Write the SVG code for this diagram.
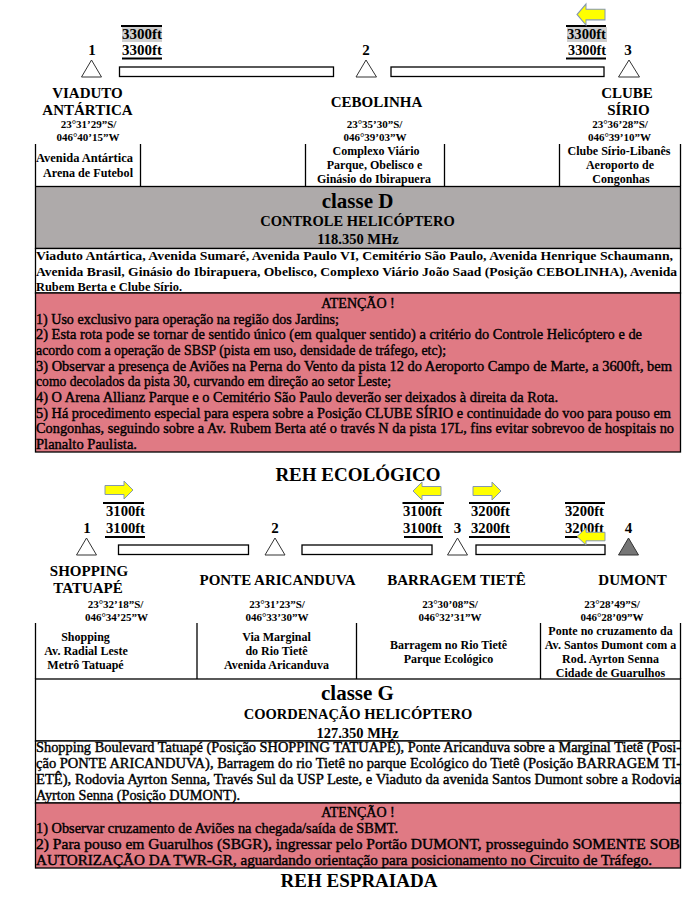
<svg xmlns="http://www.w3.org/2000/svg" width="692" height="902" viewBox="0 0 692 902">
<defs>
<style>
text{font-family:"Liberation Serif","Times New Roman",serif;font-weight:bold;fill:#000}
.m{text-anchor:middle}
.nm{font-size:15px}
.num{font-size:15px}
.co{font-size:11px}
.ce{font-size:12px}
.ft{font-size:15px}
.p{font-size:13px}
.pr{font-size:14px;font-weight:normal;stroke:#000;stroke-width:0.4}
.ttl{font-size:21px}
.sub{font-size:14.5px}
.reh{font-size:19px}
.tri{fill:#fff;stroke:#333;stroke-width:1}
.trif{fill:#767676;stroke:#333;stroke-width:1}
.seg{fill:#fff;stroke:#000;stroke-width:1.3}
.arr{fill:#ffff00;stroke:#8497b0;stroke-width:1}
.rule{stroke:#000;stroke-width:2}
.ln{stroke:#000;stroke-width:1.3;fill:none}
.grey{fill:#aeaaaa;stroke:#000;stroke-width:1.3}
.white{fill:#fff;stroke:#000;stroke-width:1.3}
.pink{fill:#e07a84;stroke:#000;stroke-width:1.3}
.hl{fill:#d0d0d0}
</style>
<path id="arR" d="M0,4.5 H19 V0 L28,9 L19,18 V13.5 H0 Z"/>
</defs>

<g id="connectors">
  <rect class="seg" x="119.5" y="67" width="214" height="9.5"/>
  <rect class="seg" x="391" y="67" width="213" height="9.5"/>
  <rect class="seg" x="118.5" y="545" width="130" height="9.5"/>
  <rect class="seg" x="302" y="545" width="130" height="9.5"/>
  <rect class="seg" x="476" y="545" width="129" height="9.5"/>
</g>

<g id="alt-top-1">
  <rect class="hl" x="122" y="27" width="40" height="15"/>
  <line class="rule" x1="121" y1="26" x2="162" y2="26"/>
  <text class="ft" x="122" y="38.5" textLength="40" lengthAdjust="spacingAndGlyphs">3300ft</text>
  <text class="ft" x="122" y="55" textLength="40" lengthAdjust="spacingAndGlyphs">3300ft</text>
  <line class="rule" x1="122" y1="58.5" x2="162" y2="58.5"/>
</g>
<g id="alt-top-2">
  <rect class="hl" x="567" y="27" width="40" height="15"/>
  <line class="rule" x1="566" y1="26" x2="606" y2="26"/>
  <text class="ft" x="567" y="38.5" textLength="39" lengthAdjust="spacingAndGlyphs">3300ft</text>
  <text class="ft" x="568" y="55" textLength="38" lengthAdjust="spacingAndGlyphs">3300ft</text>
  <line class="rule" x1="566" y1="58.5" x2="606" y2="58.5"/>
  <use href="#arR" class="arr" transform="translate(605,4) scale(-1,1.17)"/>
</g>

<g id="viaduto-antartica">
  <text class="num m" x="92" y="55">1</text>
  <polygon class="tri" points="91.5,60 81.5,77 101.5,77"/>
  <text class="nm m" x="87.5" y="98">VIADUTO</text>
  <text class="nm m" x="87.5" y="115">ANTÁRTICA</text>
  <text class="co m" x="88.5" y="128">23°31’29”S/</text>
  <text class="co m" x="88" y="141">046°40’15”W</text>
  <text class="ce" x="36" y="162" textLength="97" lengthAdjust="spacingAndGlyphs">Avenida Antártica</text>
  <text class="ce" x="43" y="176.5" textLength="90" lengthAdjust="spacingAndGlyphs">Arena de Futebol</text>
</g>
<g id="cebolinha">
  <text class="num m" x="366" y="55">2</text>
  <polygon class="tri" points="366,60 356,77 376.5,77"/>
  <text class="nm m" x="376.5" y="107">CEBOLINHA</text>
  <text class="co m" x="374.5" y="128">23°35’30”S/</text>
  <text class="co m" x="375" y="141">046°39’03”W</text>
  <text class="ce m" x="376" y="155">Complexo Viário</text>
  <text class="ce m" x="374.5" y="169">Parque, Obelisco e</text>
  <text class="ce m" x="374" y="183">Ginásio do Ibirapuera</text>
</g>
<g id="clube-sirio">
  <text class="num m" x="628" y="55">3</text>
  <polygon class="tri" points="629,60 618.5,77 639.5,77"/>
  <text class="nm m" x="627" y="98">CLUBE</text>
  <text class="nm m" x="628.5" y="115">SÍRIO</text>
  <text class="co m" x="620" y="128">23°36’28”S/</text>
  <text class="co m" x="619.5" y="141">046°39’10”W</text>
  <text class="ce m" x="619" y="155">Clube Sírio-Libanês</text>
  <text class="ce m" x="620" y="169">Aeroporto de</text>
  <text class="ce m" x="621" y="183">Congonhas</text>
</g>

<g id="table-top">
  <line class="ln" x1="35.5" y1="144" x2="35.5" y2="186"/>
  <line class="ln" x1="140.5" y1="144" x2="140.5" y2="186"/>
  <line class="ln" x1="305.5" y1="144" x2="305.5" y2="186"/>
  <line class="ln" x1="444.5" y1="144" x2="444.5" y2="186"/>
  <line class="ln" x1="559.5" y1="144" x2="559.5" y2="186"/>
  <line class="ln" x1="680.5" y1="144" x2="680.5" y2="186"/>
</g>

<g id="classe-d">
  <rect class="grey" x="35.5" y="186.5" width="645" height="62"/>
  <text class="ttl m" x="357.5" y="208">classe D</text>
  <text class="sub m" x="357.5" y="226">CONTROLE HELICÓPTERO</text>
  <text class="sub m" x="358" y="244">118.350 MHz</text>
</g>

<g id="desc-top">
  <rect class="white" x="35.5" y="248.5" width="645" height="44.5"/>
  <text class="p" x="36" y="260" textLength="637" lengthAdjust="spacingAndGlyphs">Viaduto Antártica, Avenida Sumaré, Avenida Paulo VI, Cemitério São Paulo, Avenida Henrique Schaumann,</text>
  <text class="p" x="36" y="275.5" textLength="641" lengthAdjust="spacingAndGlyphs">Avenida Brasil, Ginásio do Ibirapuera, Obelisco, Complexo Viário João Saad (Posição CEBOLINHA), Avenida</text>
  <text class="p" x="36" y="290.5" textLength="146" lengthAdjust="spacingAndGlyphs">Rubem Berta e Clube Sírio.</text>
</g>

<g id="atencao-top">
  <rect class="pink" x="35.5" y="293" width="645" height="159"/>
  <text class="pr m" x="358" y="308">ATENÇÃO !</text>
  <text class="pr" x="36" y="323.5" textLength="303" lengthAdjust="spacingAndGlyphs">1) Uso exclusivo para operação na região dos Jardins;</text>
  <text class="pr" x="36" y="339.2" textLength="606" lengthAdjust="spacingAndGlyphs">2) Esta rota pode se tornar de sentido único (em qualquer sentido) a critério do Controle Helicóptero e de</text>
  <text class="pr" x="36" y="354.9" textLength="410" lengthAdjust="spacingAndGlyphs">acordo com a operação de SBSP (pista em uso, densidade de tráfego, etc);</text>
  <text class="pr" x="36" y="370.6" textLength="636" lengthAdjust="spacingAndGlyphs">3) Observar a presença de Aviões na Perna do Vento da pista 12 do Aeroporto Campo de Marte, a 3600ft, bem</text>
  <text class="pr" x="36" y="386.3" textLength="355" lengthAdjust="spacingAndGlyphs">como decolados da pista 30, curvando em direção ao setor Leste;</text>
  <text class="pr" x="36" y="402" textLength="522" lengthAdjust="spacingAndGlyphs">4) O Arena Allianz Parque e o Cemitério São Paulo deverão ser deixados à direita da Rota.</text>
  <text class="pr" x="36" y="417.7" textLength="635" lengthAdjust="spacingAndGlyphs">5) Há procedimento especial para espera sobre a Posição CLUBE SÍRIO e continuidade do voo para pouso em</text>
  <text class="pr" x="36" y="433.4" textLength="638" lengthAdjust="spacingAndGlyphs">Congonhas, seguindo sobre a Av. Rubem Berta até o través N da pista 17L, fins evitar sobrevoo de hospitais no</text>
  <text class="pr" x="36" y="449" textLength="101" lengthAdjust="spacingAndGlyphs">Planalto Paulista.</text>
</g>

<text id="title-ecologico" class="reh m" x="358" y="481">REH ECOLÓGICO</text>

<g id="alt-bot-1">
  <line class="rule" x1="103" y1="503" x2="144" y2="503"/>
  <text class="ft" x="106" y="515.5" textLength="39" lengthAdjust="spacingAndGlyphs">3100ft</text>
  <text class="ft" x="106" y="533" textLength="39" lengthAdjust="spacingAndGlyphs">3100ft</text>
  <line class="rule" x1="105" y1="537" x2="145" y2="537"/>
  <use href="#arR" class="arr" transform="translate(105,481)"/>
</g>
<g id="alt-bot-2">
  <line class="rule" x1="402.5" y1="503" x2="444" y2="503"/>
  <text class="ft" x="403" y="515.5" textLength="39" lengthAdjust="spacingAndGlyphs">3100ft</text>
  <text class="ft" x="403" y="533" textLength="39" lengthAdjust="spacingAndGlyphs">3100ft</text>
  <line class="rule" x1="404" y1="537" x2="443" y2="537"/>
  <use href="#arR" class="arr" transform="translate(441,482) scale(-1,1)"/>
</g>
<g id="alt-bot-3">
  <line class="rule" x1="469" y1="503" x2="510" y2="503"/>
  <text class="ft" x="471" y="515.5" textLength="39" lengthAdjust="spacingAndGlyphs">3200ft</text>
  <text class="ft" x="471" y="533" textLength="39" lengthAdjust="spacingAndGlyphs">3200ft</text>
  <line class="rule" x1="469" y1="537" x2="510" y2="537"/>
  <use href="#arR" class="arr" transform="translate(473,482)"/>
</g>
<g id="alt-bot-4">
  <line class="rule" x1="565" y1="503" x2="605" y2="503"/>
  <text class="ft" x="565" y="515.5" textLength="39" lengthAdjust="spacingAndGlyphs">3200ft</text>
  <text class="ft" x="565" y="533" textLength="39" lengthAdjust="spacingAndGlyphs">3200ft</text>
  <line class="rule" x1="565" y1="537" x2="604" y2="537"/>
  <use href="#arR" class="arr" transform="translate(605,528) scale(-1,0.95)"/>
</g>

<g id="shopping-tatuape">
  <text class="num m" x="87" y="533">1</text>
  <polygon class="tri" points="86.5,538 76.5,555 96.5,555"/>
  <text class="nm m" x="89" y="576">SHOPPING</text>
  <text class="nm m" x="88" y="593">TATUAPÉ</text>
  <text class="co m" x="115.5" y="607.5">23°32’18”S/</text>
  <text class="co m" x="116.5" y="620.5">046°34’25”W</text>
  <text class="ce m" x="85.5" y="640.5">Shopping</text>
  <text class="ce m" x="86" y="654.5">Av. Radial Leste</text>
  <text class="ce m" x="85.5" y="668.5">Metrô Tatuapé</text>
</g>
<g id="ponte-aricanduva">
  <text class="num m" x="275" y="533">2</text>
  <polygon class="tri" points="275,538 265,555 285,555"/>
  <text class="nm m" x="277.5" y="585">PONTE ARICANDUVA</text>
  <text class="co m" x="277" y="607.5">23°31’23”S/</text>
  <text class="co m" x="277" y="620.5">046°33’30”W</text>
  <text class="ce m" x="276.5" y="640.5">Via Marginal</text>
  <text class="ce m" x="276.5" y="654.5">do Rio Tietê</text>
  <text class="ce m" x="276.5" y="668.5">Avenida Aricanduva</text>
</g>
<g id="barragem-tiete">
  <text class="num m" x="457.5" y="533">3</text>
  <polygon class="tri" points="457.5,538 447.5,555 467.5,555"/>
  <text class="nm m" x="456.5" y="585">BARRAGEM TIETÊ</text>
  <text class="co m" x="450" y="607.5">23°30’08”S/</text>
  <text class="co m" x="450" y="620.5">046°32’31”W</text>
  <text class="ce m" x="448.5" y="649">Barragem no Rio Tietê</text>
  <text class="ce m" x="448.5" y="663">Parque Ecológico</text>
</g>
<g id="dumont">
  <text class="num m" x="628.5" y="533">4</text>
  <polygon class="trif" points="628.5,538 618.5,555 638.5,555"/>
  <text class="nm m" x="632.5" y="585">DUMONT</text>
  <text class="co m" x="612" y="607.5">23°28’49”S/</text>
  <text class="co m" x="612" y="620.5">046°28’09”W</text>
  <text class="ce m" x="610.5" y="635">Ponte no cruzamento da</text>
  <text class="ce m" x="610.5" y="649">Av. Santos Dumont com a</text>
  <text class="ce m" x="610.5" y="663">Rod. Ayrton Senna</text>
  <text class="ce m" x="610.5" y="677">Cidade de Guarulhos</text>
</g>

<g id="table-bottom">
  <line class="ln" x1="35.5" y1="623" x2="35.5" y2="679"/>
  <line class="ln" x1="197" y1="623" x2="197" y2="679"/>
  <line class="ln" x1="356.5" y1="623" x2="356.5" y2="679"/>
  <line class="ln" x1="540.5" y1="623" x2="540.5" y2="679"/>
  <line class="ln" x1="680.5" y1="623" x2="680.5" y2="679"/>
</g>

<g id="classe-g">
  <rect class="white" x="35.5" y="679" width="645" height="62"/>
  <text class="ttl m" x="357.5" y="700">classe G</text>
  <text class="sub m" x="358" y="719">COORDENAÇÃO HELICÓPTERO</text>
  <text class="sub m" x="357.5" y="738">127.350 MHz</text>
</g>

<g id="desc-bottom">
  <rect class="white" x="35.5" y="741" width="645" height="62"/>
  <text class="pr" x="36" y="752" textLength="645" lengthAdjust="spacingAndGlyphs">Shopping Boulevard Tatuapé (Posição SHOPPING TATUAPÉ), Ponte Aricanduva sobre a Marginal Tietê (Posi-</text>
  <text class="pr" x="36" y="768" textLength="645" lengthAdjust="spacingAndGlyphs">ção PONTE ARICANDUVA), Barragem do rio Tietê no parque Ecológico do Tietê (Posição BARRAGEM TI-</text>
  <text class="pr" x="36" y="784" textLength="645" lengthAdjust="spacingAndGlyphs">ETÊ), Rodovia Ayrton Senna, Través Sul da USP Leste, e Viaduto da avenida Santos Dumont sobre a Rodovia</text>
  <text class="pr" x="36" y="800" textLength="204" lengthAdjust="spacingAndGlyphs">Ayrton Senna (Posição DUMONT).</text>
</g>

<g id="atencao-bottom">
  <rect class="pink" x="35.5" y="803" width="645" height="65"/>
  <text class="pr m" x="358" y="817">ATENÇÃO !</text>
  <text class="pr" x="36" y="833" textLength="362" lengthAdjust="spacingAndGlyphs">1) Observar cruzamento de Aviões na chegada/saída de SBMT.</text>
  <text class="pr" x="36" y="849" textLength="644" lengthAdjust="spacingAndGlyphs">2) Para pouso em Guarulhos (SBGR), ingressar pelo Portão DUMONT, prosseguindo SOMENTE SOB</text>
  <text class="pr" x="36" y="865" textLength="616" lengthAdjust="spacingAndGlyphs">AUTORIZAÇÃO DA TWR-GR, aguardando orientação para posicionamento no Circuito de Tráfego.</text>
</g>

<text id="title-espraiada" class="reh m" x="359" y="887">REH ESPRAIADA</text>
</svg>
